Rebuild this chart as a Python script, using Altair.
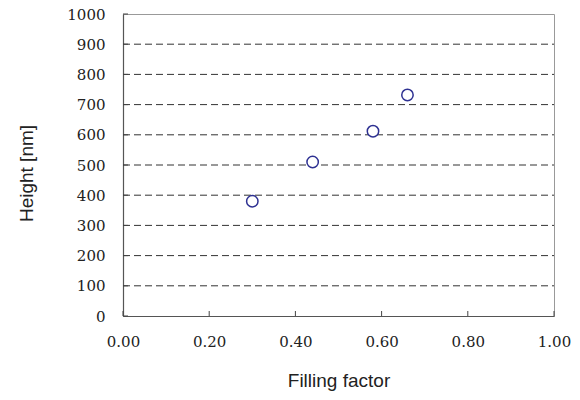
import altair as alt
import pandas as pd

filling_factor = [0.30, 0.44, 0.58, 0.66]
height_nm = [380, 510, 612, 732]

x_ticks = [0.0, 0.2, 0.4, 0.6, 0.8, 1.0]
y_ticks = [0, 100, 200, 300, 400, 500, 600, 700, 800, 900, 1000]
grid_values = [100, 200, 300, 400, 500, 600, 700, 800, 900]

W, H = 431, 302

pts = pd.DataFrame({"x": filling_factor, "y": height_nm})
xt = pd.DataFrame({"x": x_ticks})
yt = pd.DataFrame({"y": y_ticks})
gv = pd.DataFrame({"y": grid_values})

xscale = alt.Scale(domain=[0, 1], nice=False, zero=False)
yscale = alt.Scale(domain=[0, 1000], nice=False)

label_font = "DejaVu Serif"
title_font = "Liberation Sans"

x_axis = alt.Axis(
    values=x_ticks, format=".2f", title="Filling factor", grid=False, ticks=False,
    labelFont=label_font, labelFontSize=15, labelColor="#222", labelPadding=18,
    labelOverlap=False, labelFlush=False,
    titleFont=title_font, titleFontSize=19, titleFontWeight="normal", titleColor="#222",
    titlePadding=22, domainColor="#555", domainWidth=1.2,
)
y_axis = alt.Axis(
    values=y_ticks, format="d", title="Height [nm]", grid=False, ticks=False,
    labelFont=label_font, labelFontSize=15, labelColor="#222", labelPadding=18,
    labelOverlap=False, labelFlush=False,
    titleFont=title_font, titleFontSize=19, titleFontWeight="normal", titleColor="#222",
    titlePadding=30, titleY=159, domainColor="#555", domainWidth=1.2,
)

grid = alt.Chart(gv).mark_rule(color="#333", strokeWidth=1, strokeDash=[7, 4]).encode(
    y=alt.Y("y:Q", scale=yscale, axis=y_axis),
    x=alt.value(0), x2=alt.value(W),
)

xtick_layer = alt.Chart(xt).mark_rule(color="#444", strokeWidth=1).encode(
    x=alt.X("x:Q", scale=xscale, axis=x_axis),
    y=alt.value(H - 5), y2=alt.value(H),
)

ytick_layer = alt.Chart(yt).mark_rule(color="#444", strokeWidth=1).encode(
    y=alt.Y("y:Q", scale=yscale, axis=y_axis),
    x=alt.value(0), x2=alt.value(5),
)

points = alt.Chart(pts).mark_point(
    shape="circle", filled=False, size=130, stroke="#2e3192", strokeWidth=1.5, fill="white", fillOpacity=1
).encode(
    x=alt.X("x:Q", scale=xscale, axis=x_axis),
    y=alt.Y("y:Q", scale=yscale, axis=y_axis),
)

chart = alt.layer(grid, xtick_layer, ytick_layer, points).properties(
    width=W, height=H,
    autosize=alt.AutoSizeParams(type="none"),
    padding={"left": 115, "top": 6, "right": 18, "bottom": 80},
    background="white",
).configure_view(stroke="#999", strokeWidth=1).configure_axis(labelOverlap=False)

chart.save("out.html", embed_options={"renderer": "svg", "actions": False})
